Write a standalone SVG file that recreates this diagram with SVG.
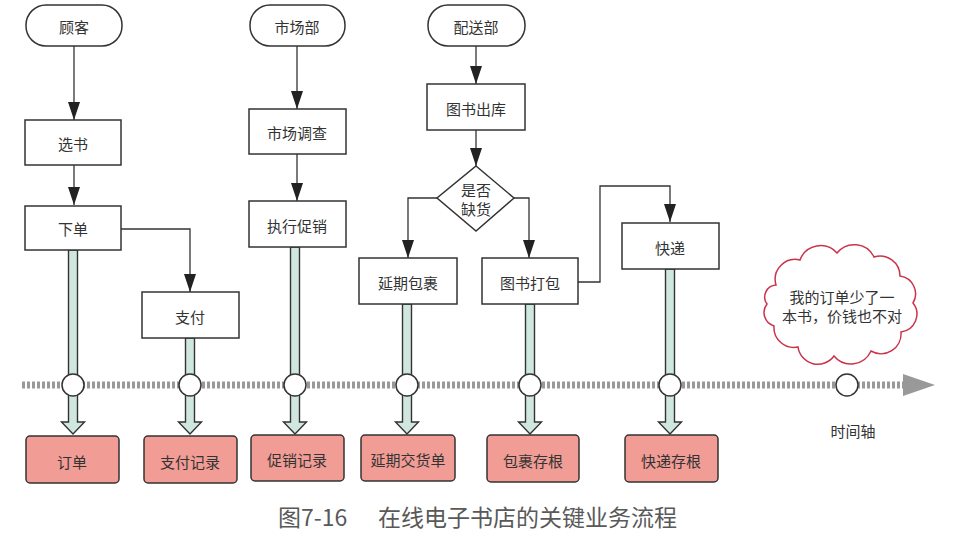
<svg xmlns="http://www.w3.org/2000/svg" width="957" height="536" viewBox="0 0 957 536">
<style>
text{font-family:"Noto Sans CJK SC","Noto Sans",sans-serif;font-size:15px;fill:#333;text-anchor:middle;dominant-baseline:central}
.box{fill:#fff;stroke:#333;stroke-width:1.5}
.term{fill:#fff;stroke:#333;stroke-width:1.5}
.doc{fill:#f19c95;stroke:#333;stroke-width:1.5}
.con{fill:none;stroke:#333;stroke-width:1.3;marker-end:url(#ah)}
.thick{fill:#cfe7de;stroke:#333;stroke-width:1.4}
.dot{fill:#fff;stroke:#333;stroke-width:1.5}
.cap{font-size:23px;fill:#595959;text-anchor:start}
</style>
<defs>
<marker id="ah" markerUnits="userSpaceOnUse" viewBox="0 0 18 12" refX="18" refY="6" markerWidth="18" markerHeight="12" orient="auto">
<path d="M0,0 L18,6 L0,12 z" fill="#222"/>
</marker>
</defs>
<rect width="957" height="536" fill="#fff"/>

<g id="timeline">
<line x1="22" y1="385" x2="904" y2="385" stroke="#999" stroke-width="7" stroke-dasharray="3,2"/>
<polygon points="903,374 935,385 903,396" fill="#999"/>
<text x="853" y="430">时间轴</text>
</g>

<g id="connectors">
<path class="con" d="M74,45 V120"/>
<path class="con" d="M74,165 V205"/>
<path class="con" d="M121,229 H190 V292"/>
<path class="con" d="M297,45 V109"/>
<path class="con" d="M297,154 V201"/>
<path class="con" d="M476,45 V84"/>
<path class="con" d="M476,130 V166"/>
<path class="con" d="M437,198 H408 V258"/>
<path class="con" d="M514,198 H529 V258"/>
<path class="con" d="M578,282 H600 V186 H670 V222"/>
<polygon class="thick" points="68.5,250 77.5,250 77.5,422 84.5,422 73,434 61.5,422 68.5,422"/>
<polygon class="thick" points="185.5,338 194.5,338 194.5,422 201.5,422 190,434 178.5,422 185.5,422"/>
<polygon class="thick" points="290.5,247 299.5,247 299.5,422 306.5,422 295,434 283.5,422 290.5,422"/>
<polygon class="thick" points="402.5,304 411.5,304 411.5,422 418.5,422 407,434 395.5,422 402.5,422"/>
<polygon class="thick" points="525.5,304 534.5,304 534.5,422 541.5,422 530,434 518.5,422 525.5,422"/>
<polygon class="thick" points="665.5,269 674.5,269 674.5,422 681.5,422 670,434 658.5,422 665.5,422"/>
</g>

<g id="events">
<circle class="dot" cx="73" cy="385" r="11"/>
<circle class="dot" cx="190" cy="385" r="11"/>
<circle class="dot" cx="295" cy="385" r="11"/>
<circle class="dot" cx="407" cy="385" r="11"/>
<circle class="dot" cx="530" cy="385" r="11"/>
<circle class="dot" cx="670" cy="385" r="11"/>
<circle class="dot" cx="847" cy="385" r="11"/>
</g>

<g id="customer"><rect class="term" x="26" y="5" width="96" height="41" rx="20"/><text x="74" y="26">顾客</text></g>
<g id="select"><rect class="box" x="25" y="120" width="96" height="45"/><text x="73" y="143">选书</text></g>
<g id="order"><rect class="box" x="25" y="206" width="96" height="44"/><text x="73" y="228">下单</text></g>
<g id="pay"><rect class="box" x="142" y="292" width="97" height="46"/><text x="190" y="316">支付</text></g>

<g id="market"><rect class="term" x="250" y="5" width="95" height="41" rx="20"/><text x="297" y="26">市场部</text></g>
<g id="survey"><rect class="box" x="249" y="109" width="97" height="45"/><text x="297" y="132">市场调查</text></g>
<g id="promo"><rect class="box" x="249" y="201" width="97" height="46"/><text x="297" y="225">执行促销</text></g>

<g id="delivery"><rect class="term" x="428" y="5" width="97" height="41" rx="20"/><text x="476" y="26">配送部</text></g>
<g id="outbound"><rect class="box" x="427" y="84" width="98" height="46"/><text x="476" y="108">图书出库</text></g>
<g id="check"><polygon class="box" points="476,166 514,198 476,231 437,198"/><text x="476" y="189">是否</text><text x="476" y="208">缺货</text></g>
<g id="delay"><rect class="box" x="359" y="258" width="98" height="46"/><text x="408" y="282">延期包裹</text></g>
<g id="pack"><rect class="box" x="482" y="258" width="96" height="46"/><text x="530" y="282">图书打包</text></g>
<g id="express"><rect class="box" x="622" y="223" width="97" height="46"/><text x="670" y="247">快递</text></g>

<g id="doc-order"><rect class="doc" x="26" y="436" width="93" height="47" rx="4"/><text x="72" y="461">订单</text></g>
<g id="doc-pay"><rect class="doc" x="144" y="436" width="93" height="47" rx="4"/><text x="190" y="461">支付记录</text></g>
<g id="doc-promo"><rect class="doc" x="251" y="435" width="93" height="46" rx="4"/><text x="297" y="459">促销记录</text></g>
<g id="doc-delay"><rect class="doc" x="361" y="435" width="94" height="46" rx="4"/><text x="408" y="459">延期交货单</text></g>
<g id="doc-pack"><rect class="doc" x="487" y="435" width="92" height="47" rx="4"/><text x="533" y="460">包裹存根</text></g>
<g id="doc-express"><rect class="doc" x="625" y="435" width="93" height="47" rx="4"/><text x="671" y="460">快递存根</text></g>

<g id="cloud">
<path d="M776,285 A20,20 0 0 1 800,260 A22,22 0 0 1 837,253 A22,22 0 0 1 874,257 A20,20 0 0 1 900,276 A18,18 0 0 1 913,303 A18,18 0 0 1 901,332 A20,20 0 0 1 871,351 A22,22 0 0 1 834,356 A20,20 0 0 1 798,347 A20,20 0 0 1 774,326 A14,14 0 0 1 767,304 A12,12 0 0 1 776,285 Z" fill="#fff" stroke="#c9344c" stroke-width="1.5"/>
<text x="842" y="296">我的订单少了一</text>
<text x="842" y="315">本书，价钱也不对</text>
</g>

<g id="caption">
<text class="cap" x="278" y="516">图7-16</text>
<text class="cap" x="378" y="516">在线电子书店的关键业务流程</text>
</g>
</svg>
